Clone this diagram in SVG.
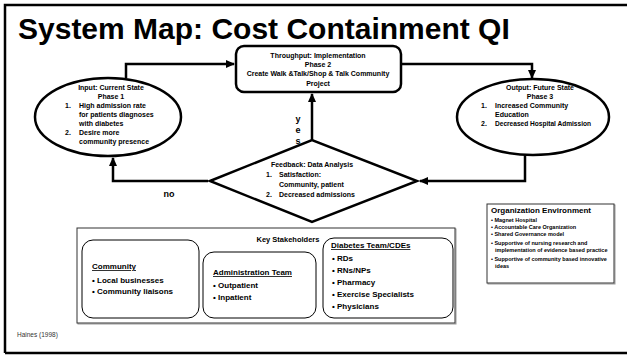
<svg xmlns="http://www.w3.org/2000/svg" width="627" height="356" viewBox="0 0 627 356">
<style>
.t{font-family:"Liberation Sans",Arial,sans-serif;font-weight:bold;fill:#000}
.s{font-size:7px}
.c{text-anchor:middle}
.n{fill:none;stroke:#000;stroke-width:2.5}
.l{fill:none;stroke:#000;stroke-width:2.5;marker-end:url(#ah)}
.k{fill:#fff;stroke:#000;stroke-width:1}
.u{text-decoration:underline}
</style>
<defs>
<marker id="ah" markerUnits="userSpaceOnUse" markerWidth="9" markerHeight="8" refX="8" refY="4" orient="auto">
<path d="M0,0 L9,4 L0,8 Z" fill="#000"/>
</marker>
</defs>
<rect x="0" y="0" width="627" height="356" fill="#fff"/>
<path d="M5,353 L5,5 L627,5 M5,353 L627,353" fill="none" stroke="#000" stroke-width="2.5"/>
<text x="18" y="39" font-family="'Liberation Sans',Arial,sans-serif" font-weight="bold" font-size="30">System Map: Cost Containment QI</text>

<g id="connectors">
<path class="l" d="M126,78 L126,64 L234,64"/>
<path class="l" d="M401,64 L532,64 L532,78"/>
<path class="l" d="M525,155 L525,181 L420,181"/>
<path class="l" d="M312,140 L312,94"/>
<path class="l" d="M208,181 L113,181 L113,158"/>
</g>

<g id="input">
<ellipse class="n" cx="108" cy="117" rx="73" ry="39" fill="#fff"/>
<text class="t s c" x="111" y="90">Input: Current State</text>
<text class="t s c" x="111" y="99">Phase 1</text>
<text class="t s" x="65" y="108">1.</text>
<text class="t s" x="79" y="108">High admission rate</text>
<text class="t s" x="79" y="117">for patients diagnoses</text>
<text class="t s" x="79" y="126">with diabetes</text>
<text class="t s" x="65" y="135">2.</text>
<text class="t s" x="79" y="135">Desire more</text>
<text class="t s" x="79" y="144">community presence</text>
</g>

<g id="throughput">
<rect class="n" x="236" y="46" width="165" height="46" rx="8" fill="#fff"/>
<text class="t s c" x="318" y="58">Throughput: Implementation</text>
<text class="t s c" x="318" y="67">Phase 2</text>
<text class="t s c" x="318" y="76">Create Walk &amp;Talk/Shop &amp; Talk Community</text>
<text class="t s c" x="318" y="86">Project</text>
</g>

<g id="output">
<ellipse class="n" cx="533" cy="117" rx="76" ry="38" fill="#fff"/>
<text class="t s c" x="540" y="90">Output: Future State</text>
<text class="t s c" x="540" y="99">Phase 3</text>
<text class="t s" x="481" y="108">1.</text>
<text class="t s" x="495" y="108">Increased Community</text>
<text class="t s" x="495" y="117">Education</text>
<text class="t s" x="481" y="126">2.</text>
<text class="t s" x="495" y="126" textLength="96" lengthAdjust="spacingAndGlyphs">Decreased Hospital Admission</text>
</g>

<g id="feedback">
<path class="n" d="M210,181 L312,140 L417,181 L312,222 Z" fill="#fff"/>
<text class="t s c" x="312" y="167">Feedback: Data Analysis</text>
<text class="t s" x="266" y="177">1.</text>
<text class="t s" x="279" y="177">Satisfaction:</text>
<text class="t s" x="279" y="187">Community, patient</text>
<text class="t s" x="266" y="197">2.</text>
<text class="t s" x="279" y="197">Decreased admissions</text>
</g>

<g id="labels">
<text class="t c" font-size="9" x="298" y="122">y</text>
<text class="t c" font-size="9" x="298" y="133">e</text>
<text class="t c" font-size="9" x="298" y="144">s</text>
<text class="t c" font-size="9" x="169" y="197">no</text>
</g>

<g id="stakeholders">
<rect x="78" y="229" width="378" height="95" fill="none" stroke="#999" stroke-width="1"/>
<rect x="77" y="228" width="378" height="95" fill="#fff" stroke="#333" stroke-width="1"/>
<text class="t c" font-size="7.5" x="288" y="242">Key Stakeholders</text>
<g id="community">
<rect class="k" x="82" y="240" width="117" height="78" rx="11"/>
<text class="t u" font-size="8" x="92" y="269">Community</text>
<text class="t" font-size="8" x="92" y="283">•   Local businesses</text>
<text class="t" font-size="8" x="92" y="294">•   Community liaisons</text>
</g>
<g id="admin">
<rect class="k" x="203" y="252" width="113" height="66" rx="11"/>
<text class="t u" font-size="8" x="213" y="275">Administration Team</text>
<text class="t" font-size="8" x="213" y="288">•   Outpatient</text>
<text class="t" font-size="8" x="213" y="300">•   Inpatient</text>
</g>
<g id="diabetes">
<rect class="k" x="323" y="238" width="130" height="80" rx="11"/>
<text class="t u" font-size="8" x="331" y="248">Diabetes Team/CDEs</text>
<text class="t" font-size="8" x="332" y="261">•   RDs</text>
<text class="t" font-size="8" x="332" y="273">•   RNs/NPs</text>
<text class="t" font-size="8" x="332" y="285">•   Pharmacy</text>
<text class="t" font-size="8" x="332" y="297">•   Exercise Specialists</text>
<text class="t" font-size="8" x="332" y="309">•   Physicians</text>
</g>
</g>

<g id="organization">
<rect x="488" y="205" width="127" height="79" fill="none" stroke="#999" stroke-width="1"/>
<rect x="487" y="204" width="127" height="79" fill="#fff" stroke="#333" stroke-width="1"/>
<text class="t" font-size="8" x="491" y="213">Organization Environment</text>
<text class="t" font-size="5.5" x="491" y="222">•  Magnet Hospital</text>
<text class="t" font-size="5.5" x="491" y="229">•  Accountable  Care Organization</text>
<text class="t" font-size="5.5" x="491" y="236">•  Shared Governance model</text>
<text class="t" font-size="5.5" x="491" y="245">•  Supportive of nursing research  and</text>
<text class="t" font-size="5.5" x="495" y="252">implementation of evidence based practice</text>
<text class="t" font-size="5.5" x="491" y="261">•  Supportive of community based innovative</text>
<text class="t" font-size="5.5" x="495" y="268">ideas</text>
</g>

<text x="17" y="337" font-family="'Liberation Sans',Arial,sans-serif" font-size="6.5" fill="#333">Haines (1998)</text>
</svg>
